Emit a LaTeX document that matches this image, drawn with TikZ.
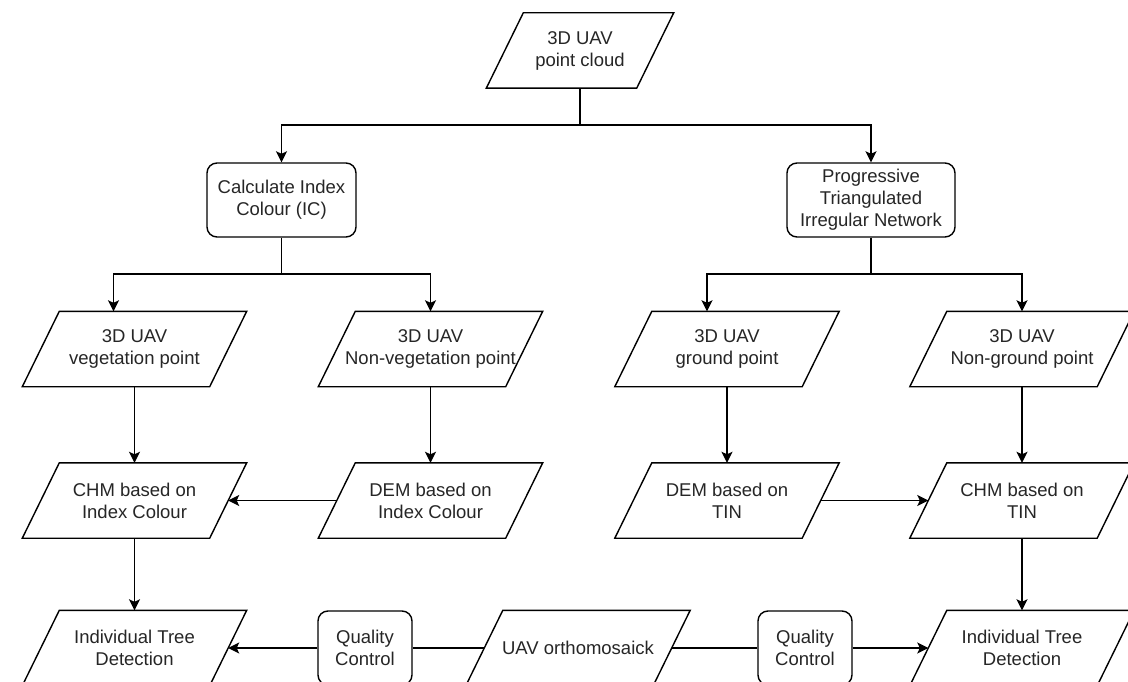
\documentclass[tikz,border=0pt]{standalone}
\usepackage{fontspec}
\setmainfont{Liberation Sans}
\usetikzlibrary{arrows.meta}
\newcommand\paraoutline[1]{\draw[conn] ([xshift=18.5pt]#1.north west) -- ([xshift=18.5pt]#1.north east) -- ([xshift=-18.5pt]#1.south east) -- ([xshift=-18.5pt]#1.south west) -- cycle;}
\begin{document}
\begin{tikzpicture}[x=1pt,y=-1pt,
  txt/.style={font=\fontsize{18.5}{22}\selectfont, align=center, text=black!85},
  para/.style={txt, rectangle, minimum width=187pt, minimum height=75pt, inner sep=0pt},
  rbox/.style={txt, rectangle, draw=black, rounded corners=10pt, minimum height=74pt, inner sep=0pt, line width=1.4pt},
  conn/.style={line width=1.4pt, draw=black},
  arr/.style={conn, -{Stealth[length=11pt,width=11pt,inset=2.5pt]}}]
\fill[white] (0,0) rectangle (1128,682);
\useasboundingbox (0,0) rectangle (1128,682);
\clip (0,0) rectangle (1128,682);

\node[para, minimum width=150pt] (src) at (580,50.5) {3D UAV\\point cloud};
\node[rbox, minimum width=149pt] (ic) at (281.5,200) {Calculate Index\\Colour (IC)};
\node[rbox, minimum width=168pt] (ptin) at (871,200) {Progressive\\Triangulated\\Irregular Network};

\node[para] (veg) at (134.5,349) {3D UAV\\vegetation point};
\node[para] (nveg) at (430.5,349) {3D UAV\\Non-vegetation point};
\node[para] (gnd) at (727,349) {3D UAV\\ground point};
\node[para] (ngnd) at (1022,349) {3D UAV\\Non-ground point};

\node[para] (chmic) at (134.5,500.5) {CHM based on\\Index Colour};
\node[para] (demic) at (430.5,500.5) {DEM based on\\Index Colour};
\node[para] (demtin) at (727,500.5) {DEM based on\\TIN};
\node[para] (chmtin) at (1022,500.5) {CHM based on\\TIN};

\node[para] (itd1) at (134.5,648) {Individual Tree\\Detection};
\node[para] (ortho) at (578,648) {UAV orthomosaick};
\node[para] (itd2) at (1022,648) {Individual Tree\\Detection};
\node[rbox, minimum width=94pt] (qc1) at (365,648) {Quality\\Control};
\node[rbox, minimum width=94pt] (qc2) at (805,648) {Quality\\Control};

\foreach \n in {src,veg,nveg,gnd,ngnd,chmic,demic,demtin,chmtin,itd1,ortho,itd2}{\paraoutline{\n}}

\draw[arr] (src.south) -- (src.south |- 0,125) -| (ic.north);
\draw[arr] (src.south |- 0,125) -| (ptin.north);

\draw[arr] (ic.south) -- (ic.south |- 0,274) -| ([xshift=-21pt]veg.north);
\draw[arr] (ic.south |- 0,274) -| (nveg.north);
\draw[arr] (ptin.south) -- (ptin.south |- 0,274) -| ([xshift=-20pt]gnd.north);
\draw[arr] (ptin.south |- 0,274) -| (ngnd.north);

\draw[arr] (veg.south) -- (chmic.north);
\draw[arr] (nveg.south) -- (demic.north);
\draw[arr] (gnd.south) -- (demtin.north);
\draw[arr] (ngnd.south) -- (chmtin.north);

\draw[arr] (demic.west) -- (chmic.east);
\draw[arr] (demtin.east) -- (chmtin.west);

\draw[arr] (chmic.south) -- (itd1.north);
\draw[arr] (chmtin.south) -- (itd2.north);

\draw[conn] (ortho.west) -- (qc1.east);
\draw[arr] (qc1.west) -- (itd1.east);
\draw[conn] (ortho.east) -- (qc2.west);
\draw[arr] (qc2.east) -- (itd2.west);
\end{tikzpicture}
\end{document}
